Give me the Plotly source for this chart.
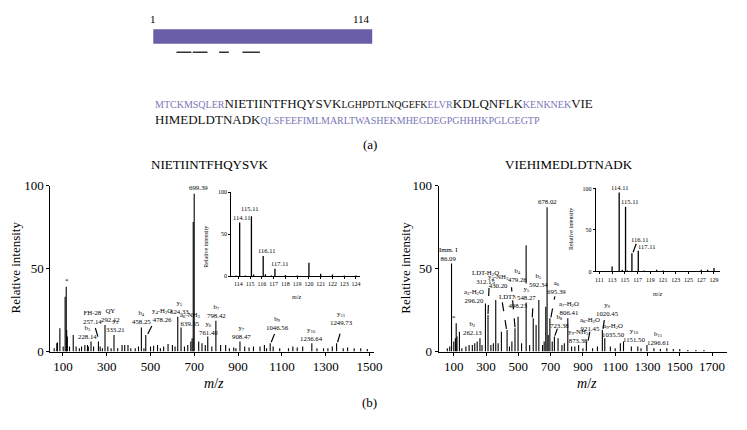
import plotly.graph_objects as go

W, H = 747, 430
SERIF = "Liberation Serif"
BAR_PURPLE = "#6b5ea8"
TXT_PURPLE = "#7a77b6"

# ---------------- data: (a) sequence ----------------
seq_start, seq_end = 1, 114
peptide_start = [13, 21.4, 35, 47]
peptide_end = [20.7, 29, 40, 56]

# (text, big?, matched colour?)
seq_line1 = [("MTCKMSQLER", False, False), ("NIETIINTFHQYSVK", True, True),
             ("LGHPDTLNQGEFK", False, True), ("ELVR", False, False),
             ("KDLQNFLK", True, True), ("KENKNEK", False, False), ("VIE", True, True)]
seq_line2 = [("HIMEDLDTNADK", True, True),
             ("QLSFEEFIMLMARLTWASHEKMHEGDEGPGHHHKPGLGEGTP", False, False)]

left_title = "NIETIINTFHQYSVK"
right_title = "VIEHIMEDLDTNADK"

# ---------------- data: left spectrum ----------------
left_lab_mz = [699.39, 115, 228.14, 262.0, 292.12, 333.21, 458.25, 478.26, 624.33,
               639.35, 761.40, 798.42, 908.47, 1046.56, 1236.64, 1349.73]
left_lab_int = [95, 39, 6, 6, 16, 10, 14.5, 10, 21, 14.5, 9, 18.5, 6, 5, 5, 5]
left_lab_text = ["699.39", "*", "b<sub>3</sub><br>228.14", "FH-28<br>257.14", "QY<br>292.12",
                 "y<sub>3</sub><br>333.21", "b<sub>4</sub><br>458.25",
                 "y<sub>4</sub>-H<sub>2</sub>O<br>478.26", "y<sub>5</sub><br>624.33",
                 "a<sub>6</sub>-NH<sub>3</sub><br>639.35", "y<sub>6</sub><br>761.40",
                 "b<sub>7</sub><br>798.42", "y<sub>7</sub><br>908.47", "b<sub>9</sub><br>1046.56",
                 "y<sub>10</sub><br>1236.64", "y<sub>11</sub><br>1249.73"]
left_minor_mz = [60, 72, 75, 86, 101, 110, 117, 120, 130, 147, 160, 175, 185, 200, 212, 216,
                 240, 270, 280, 305, 320, 350, 370, 382, 397, 410, 430, 445, 470, 500, 514,
                 532, 545, 560, 580, 600, 612, 655, 670, 684, 690, 695, 720, 735, 750, 780,
                 820, 843, 860, 880, 890, 930, 950, 970, 1000, 1020, 1030, 1060, 1090, 1130,
                 1150, 1170, 1195, 1260, 1290, 1310, 1330, 1380, 1400, 1430, 1460, 1490]
left_minor_int = [2, 5, 5.5, 14, 3, 33, 13, 9, 3, 10, 3, 2, 3, 4, 4, 3,
                  3, 3, 2, 3, 2, 2, 4, 4, 4, 2, 2, 3, 2, 3, 3.5,
                  4, 2, 3, 4.5, 4, 3, 3, 4, 6, 8, 78, 6, 5, 4, 3,
                  4, 4, 2, 2.5, 2, 3, 2.5, 3, 3, 4, 2, 3, 2, 2,
                  3, 2.5, 3, 2, 2, 2, 3, 2, 2.5, 2, 2, 1.5]

# ---------------- data: right spectrum ----------------
right_lab_mz = [86.09, 115, 262.13, 296.20, 312.15, 430.20, 479.26, 498.23, 548.27, 592.34,
                678.02, 695.39, 723.38, 806.41, 873.38, 921.45, 1020.45, 1035.50, 1151.50, 1296.61]
right_lab_int = [53, 17, 8, 29, 22, 13, 14, 21, 64, 20, 87, 20, 9, 20, 4, 6, 13, 8, 6, 4]
right_lab_text = ["Imm. I<br>86.09", "*", "b<sub>2</sub><br>262.13",
                  "a<sub>3</sub>-H<sub>2</sub>O<br>296.20", "LDT-H<sub>2</sub>O<br>312.15",
                  "y<sub>4</sub>-NH<sub>3</sub><br>430.20", "b<sub>4</sub><br>479.26",
                  "LDTNA-NH<sub>3</sub><br>498.23", "y<sub>5</sub><br>548.27",
                  "b<sub>5</sub><br>592.34", "678.02", "a<sub>6</sub><br>695.39",
                  "b<sub>8</sub><br>723.38", "a<sub>7</sub>-H<sub>2</sub>O<br>806.41",
                  "y<sub>9</sub>-NH<sub>3</sub><br>873.38", "a<sub>8</sub>-H<sub>2</sub>O<br>921.45",
                  "y<sub>9</sub><br>1020.45", "a<sub>9</sub>-H<sub>2</sub>O<br>1035.50",
                  "y<sub>10</sub><br>1151.50", "b<sub>11</sub><br>1296.61"]
right_minor_mz = [60, 75, 100, 110, 120, 135, 150, 175, 195, 215, 230, 245, 275, 330, 345, 360,
                  375, 395, 445, 460, 520, 570, 610, 627, 650, 660, 670, 685, 710, 746, 770,
                  785, 830, 850, 900, 960, 990, 1070, 1100, 1132, 1200, 1240, 1260, 1340,
                  1380, 1420, 1460, 1500, 1550, 1600, 1650]
right_minor_int = [2, 3, 6, 8, 9, 12, 2, 3, 4, 4, 5, 6, 4, 4, 5, 31,
                   5, 12, 3, 6, 5, 4, 16, 31, 4, 6, 27, 10, 6, 8, 4,
                   5, 3, 3, 2, 2, 3, 3, 2, 5, 3, 3, 2, 2,
                   1.5, 2, 1.5, 1.5, 1, 1, 1]

# ---------------- data: insets ----------------
linset_lab_mz = [114.11, 115.11, 116.11, 117.11]
linset_lab_int = [64, 71.6, 24, 9]
linset_minor_mz = [113.8, 114.6, 115.3, 116.3, 116.8, 118, 119, 120, 121, 122, 123, 124]
linset_minor_int = [1, 1, 2, 2.5, 1, 1.5, 1, 16, 3, 2, 1, 1]

rinset_lab_mz = [114.11, 115.11, 116.11, 117.11]
rinset_lab_int = [95, 78, 22, 25]
rinset_minor_mz = [113, 114.6, 115.4, 118, 120, 121, 127, 128, 129]
rinset_minor_int = [6, 2, 1, 1, 2, 1, 2, 2, 4]

# ---------------- style: label offsets (pixels) and dashed leaders ----------------
left_lab_off = [(4, -6), (1, -6), (-4, -10), (-6, -25), (5, -10), (1, -10), (0, -10), (16, -20),
                (2, -10), (9, -8), (1, -9), (1, -10), (2, -10), (7, -20), (0, -9), (5, -25)]
left_leaders = {3: (-0.5, 5, -3.5, 15), 7: (2, 1, 7, 11), 13: (1, 1, 5, 11), 15: (1, 1, 5, 15)}
right_lab_off = [(-3, -10), (-2, -6), (-7, -10), (-11, -7), (-3, -38), (-9, -49), (3, -53),
                 (0, -16), (0, 48), (5, -38), (0, -6), (7, -31), (5, -16), (1, -10), (0, -9),
                 (4, -18), (5, -21), (9, -8), (10, -7), (11, -7)]
right_leaders = {4: (0, 1, 1, 27), 5: (-0.6, 1, -5.6, 33), 6: (0, 1, -3.5, 41),
                 9: (-1, 1, 0.6, 28), 11: (1, 1, 5, 22), 12: (0.5, 1, 3, 8),
                 15: (1.8, 1, 3.5, 10), 16: (0.6, 1, 2.3, 12)}
linset_off = [(2, -5), (-2, -8), (3, -6), (5, -5)]
rinset_off = [(0, -5), (4, -5), (8, -14), (8, -4)]
rinset_leaders = {2: (1.2, 1, 4.5, 10)}


def stems(mzs, ints):
    xs, ys = [], []
    for m, v in zip(mzs, ints):
        xs += [m, m, None]
        ys += [0, v, None]
    return xs, ys


def px(x):
    return x / W


def py(y):
    return 1 - y / H


fig = go.Figure()

for mz_a, in_a, ax_id, wdt in [
    (left_lab_mz + left_minor_mz, left_lab_int + left_minor_int, ("x", "y"), 1.1),
    (right_lab_mz + right_minor_mz, right_lab_int + right_minor_int, ("x2", "y2"), 1.1),
    (linset_lab_mz + linset_minor_mz, linset_lab_int + linset_minor_int, ("x3", "y3"), 1.3),
    (rinset_lab_mz + rinset_minor_mz, rinset_lab_int + rinset_minor_int, ("x4", "y4"), 1.3),
]:
    xs, ys = stems(mz_a, in_a)
    fig.add_trace(go.Scatter(x=xs, y=ys, mode="lines", xaxis=ax_id[0], yaxis=ax_id[1],
                             line=dict(color="black", width=wdt), hoverinfo="skip",
                             showlegend=False))

fig.add_trace(go.Scatter(x=[seq_start, seq_end], y=[30, 30], mode="markers", xaxis="x5",
                         yaxis="y5", marker=dict(opacity=0), hoverinfo="skip", showlegend=False))

main_ax = dict(showline=True, linecolor="black", linewidth=1, ticks="outside", ticklen=3,
               tickwidth=1, tickcolor="black", showgrid=False, zeroline=False,
               tickfont=dict(family=SERIF, size=13, color="black"))
inset_ax = dict(showline=True, linecolor="black", linewidth=1, ticks="outside", ticklen=2,
                tickwidth=0.8, tickcolor="black", showgrid=False, zeroline=False,
                tickfont=dict(family=SERIF, size=6, color="black"))

yd_main = [py(357), py(185)]
fig.update_layout(
    width=W, height=H, margin=dict(l=0, r=0, t=0, b=0), autosize=False,
    paper_bgcolor="white", plot_bgcolor="rgba(0,0,0,0)", showlegend=False,
    xaxis=dict(main_ax, domain=[px(50), px(378)], range=[42.7, 1522.6], anchor="y",
               tickvals=list(range(100, 1501, 200))),
    yaxis=dict(main_ax, domain=yd_main, range=[0, 100], anchor="x", tickvals=[0, 50, 100]),
    xaxis2=dict(main_ax, domain=[px(443), px(735)], range=[6.4, 1793.6], anchor="y2",
                tickvals=list(range(100, 1701, 200))),
    yaxis2=dict(main_ax, domain=yd_main, range=[0, 100], anchor="x2", tickvals=[0, 50, 100]),
    xaxis3=dict(inset_ax, domain=[px(233), px(363)], range=[113.39, 124.31], anchor="y3",
                tickvals=list(range(114, 125))),
    yaxis3=dict(inset_ax, domain=[py(279), py(192)], range=[0, 100], anchor="x3",
                tickvals=[0, 50, 100]),
    xaxis4=dict(inset_ax, domain=[px(602), px(728)], range=[110.43, 129.98], anchor="y4",
                tickvals=list(range(111, 130, 2))),
    yaxis4=dict(inset_ax, domain=[py(274), py(188)], range=[0, 100], anchor="x4",
                tickvals=[0, 50, 100]),
    xaxis5=dict(domain=[px(154), px(376)], range=[seq_start, seq_end], anchor="y5", visible=False),
    yaxis5=dict(domain=[py(50), py(5)], range=[50, 5], anchor="x5", visible=False),
)

shapes = []
annots = []

# sequence bar and peptide coverage
shapes.append(dict(type="rect", xref="x5", yref="y5", x0=seq_start, x1=seq_end, y0=23, y1=38,
                   fillcolor=BAR_PURPLE, line=dict(width=0)))
for s, e in zip(peptide_start, peptide_end):
    shapes.append(dict(type="line", xref="x5", yref="y5", x0=s, x1=e, y0=47, y1=47,
                       line=dict(color="#333333", width=1.5)))
annots.append(dict(x=seq_start, y=12, xref="x5", yref="y5", text=str(seq_start), showarrow=False,
                   xanchor="center", yanchor="middle", font=dict(family=SERIF, size=11, color="black")))
annots.append(dict(x=seq_end, y=12, xref="x5", yref="y5", text=str(seq_end), showarrow=False,
                   xanchor="right", yanchor="middle", font=dict(family=SERIF, size=11, color="black")))


def seq_html(parts):
    out = []
    for txt, big, matched in parts:
        col = "#111111" if matched else TXT_PURPLE
        size = 13 if big else 10
        out.append('<span style="font-size:%spx;color:%s">%s</span>' % (size, col, txt))
    return "".join(out)


for parts, yy in [(seq_line1, 100), (seq_line2, 117)]:
    annots.append(dict(x=px(154), y=py(yy), xref="paper", yref="paper", text=seq_html(parts),
                       showarrow=False, xanchor="left", yanchor="middle",
                       font=dict(family=SERIF, size=13, color="black")))

for t, xx, yy, sz in [("(a)", 373, 142, 13), ("(b)", 373, 410, 13),
                      (left_title, 212, 163, 13), (right_title, 575, 163, 13)]:
    annots.append(dict(x=px(xx), y=py(yy), xref="paper", yref="paper", text=t, showarrow=False,
                       xanchor="center", yanchor="middle", font=dict(family=SERIF, size=sz, color="black")))

# axis titles
for xx, yy in [(15, 270), (410, 270)]:
    annots.append(dict(x=px(xx), y=py(yy), xref="paper", yref="paper", text="Relative intensity",
                       textangle=-90, showarrow=False, xanchor="center", yanchor="middle",
                       font=dict(family=SERIF, size=13, color="black")))
for xx, yy in [(216, 390), (593, 390)]:
    annots.append(dict(x=px(xx), y=py(yy), xref="paper", yref="paper", text="<i>m</i>/<i>z</i>",
                       showarrow=False, xanchor="center", yanchor="middle",
                       font=dict(family=SERIF, size=14, color="black")))
for xx, yy in [(208, 248), (577, 230)]:
    annots.append(dict(x=px(xx), y=py(yy), xref="paper", yref="paper", text="Relative intensity",
                       textangle=-90, showarrow=False, xanchor="center", yanchor="middle",
                       font=dict(family=SERIF, size=6, color="black")))
for xx, yy in [(300, 300), (665, 297)]:
    annots.append(dict(x=px(xx), y=py(yy), xref="paper", yref="paper", text="<i>m</i>/<i>z</i>",
                       showarrow=False, xanchor="center", yanchor="middle",
                       font=dict(family=SERIF, size=6.5, color="black")))


def add_labels(mzs, ints, texts, offs, leaders, xr, yr, size):
    for i, (m, v, t, (dx, dy)) in enumerate(zip(mzs, ints, texts, offs)):
        a = dict(x=m, y=v, xref=xr, yref=yr, text=t, showarrow=True, arrowcolor="rgba(0,0,0,0)",
                 arrowwidth=0.1, ax=dx, ay=dy, xanchor="center", yanchor="middle",
                 font=dict(family=SERIF, size=size, color="black"))
        if t.startswith("y<sub>5</sub><br>548"):
            a["bgcolor"] = "white"
        annots.append(a)
    for i, (x0, y0, x1, y1) in leaders.items():
        shapes.append(dict(type="line", xref=xr, yref=yr, xsizemode="pixel", ysizemode="pixel",
                           xanchor=mzs[i], yanchor=ints[i], x0=x0, y0=y0, x1=x1, y1=y1,
                           line=dict(color="black", width=1.2, dash="dash")))


add_labels(left_lab_mz, left_lab_int, left_lab_text, left_lab_off, left_leaders, "x", "y", 6.8)
add_labels(right_lab_mz, right_lab_int, right_lab_text, right_lab_off, right_leaders, "x2", "y2", 6.8)
add_labels(linset_lab_mz, linset_lab_int, ["%.2f" % v for v in linset_lab_mz], linset_off, {},
           "x3", "y3", 6.5)
add_labels(rinset_lab_mz, rinset_lab_int, ["%.2f" % v for v in rinset_lab_mz], rinset_off,
           rinset_leaders, "x4", "y4", 6.5)

fig.update_layout(shapes=shapes, annotations=annots)
fig.write_html("out.html", config={"displayModeBar": False},
               post_script="document.body.style.margin='0px';document.body.style.padding='0px';")
